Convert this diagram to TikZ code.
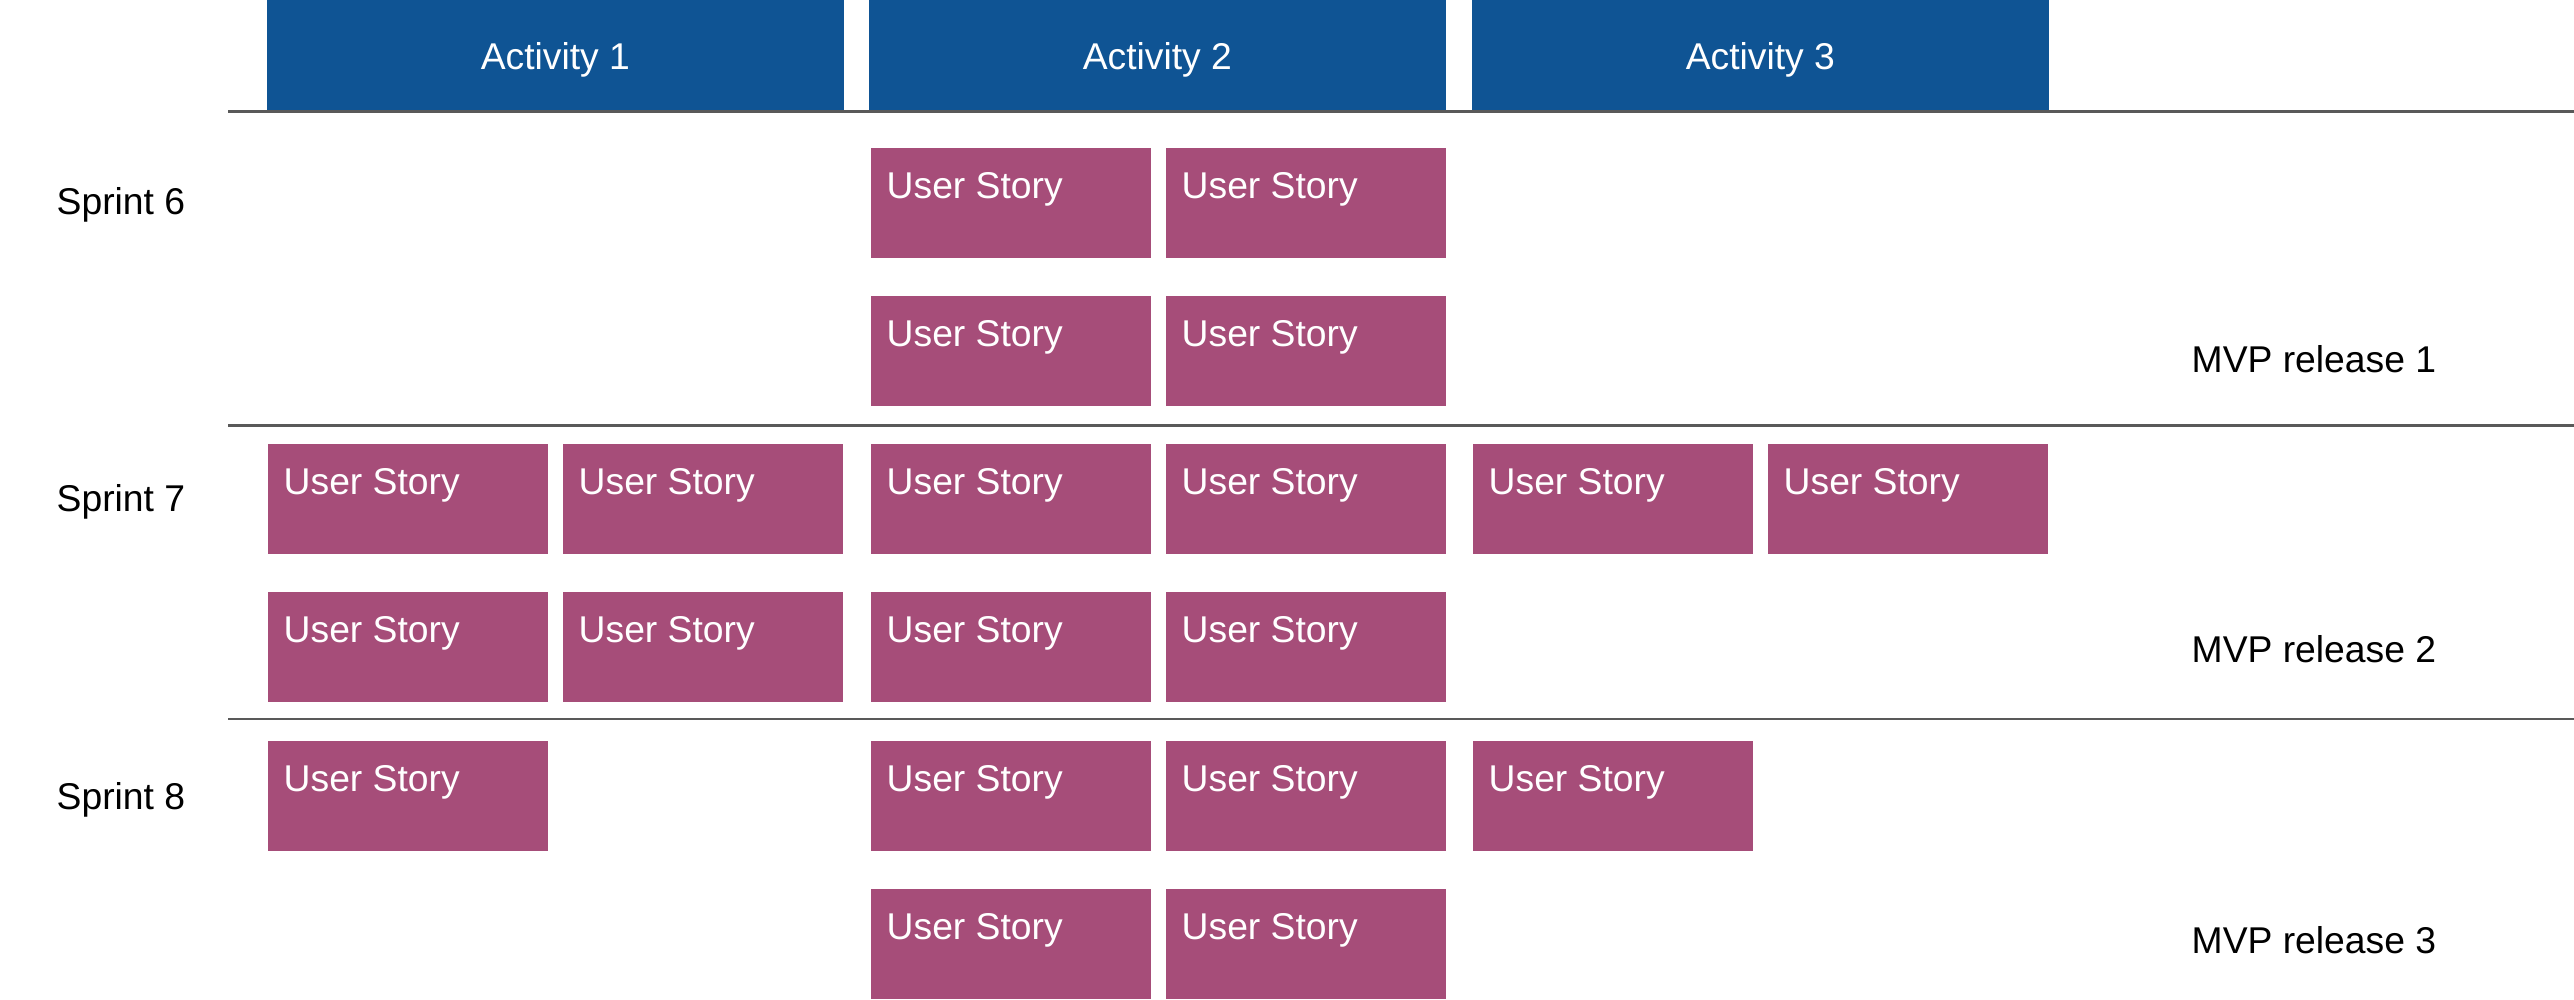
\documentclass[tikz,border=0pt]{standalone}
\usepackage{fontspec}
\setmainfont{Liberation Sans}
\usetikzlibrary{calc}
\definecolor{hdrblue}{HTML}{0F5494}
\definecolor{storypurple}{HTML}{A64D79}
\definecolor{rulegray}{HTML}{595959}
\begin{document}
\begin{tikzpicture}[x=0.01cm,y=-0.01cm,
  lblfont/.style={font=\fontsize{10.6}{12}\selectfont},
  header/.style={fill=hdrblue, draw=none, minimum width=5.77cm, minimum height=1.13cm, anchor=north west, inner sep=0},
  headertext/.style={lblfont, text=white, anchor=base, inner sep=0},
  story/.style={fill=storypurple, draw=none, minimum width=2.80cm, minimum height=1.10cm, anchor=north west, inner sep=0},
  storytext/.style={lblfont, text=white, anchor=base west, inner sep=0},
  sidelbl/.style={lblfont, text=black, anchor=base west, inner sep=0},
  rule/.style={draw=rulegray, line width=0.75pt}]
\useasboundingbox (0,0) rectangle (2574,1000);

% headers (start slightly above the page edge so no seam shows)
\foreach \i/\x in {1/266, 2/868, 3/1471} {
  \node[header] (h\i) at (\x,-3) {};
  \node[headertext] (ht\i) at ($(h\i.north)+(0,73)$) {Activity \i};
}

% rules
\coordinate (r0a) at (228,111.5); \coordinate (r0b) at (2574,111.5);
\coordinate (r1a) at (228,425.5); \coordinate (r1b) at (2574,425.5);
\coordinate (r2a) at (228,719);   \coordinate (r2b) at (2574,719);
\draw[rule] (r0a) -- (r0b);
\draw[rule] (r1a) -- (r1b);
\draw[rule] (r2a) -- (r2b);

% stories: row/top/columns
\foreach \r/\y/\cols in {1/147.7/{3,4}, 2/295.5/{3,4}, 3/443.2/{1,2,3,4,5,6}, 4/591/{1,2,3,4}, 5/740.4/{1,3,4,5}, 6/888.1/{3,4}} {
  \foreach \c in \cols {
    \pgfmathsetmacro{\xx}{{0,267,562,870,1165,1472,1767}[\c]}
    \node[story] (s\r\c) at (\xx,\y) {};
    \node[storytext] (st\r\c) at ($(s\r\c.north west)+(16,51)$) {User Story};
  }
}

% sprint labels
\node[sidelbl] (sp6) at (56,214) {Sprint 6};
\node[sidelbl] (sp7) at (56,511.5) {Sprint 7};
\node[sidelbl] (sp8) at (56,809.5) {Sprint 8};

% MVP labels
\node[sidelbl] (mvp1) at (2191,372) {MVP release 1};
\node[sidelbl] (mvp2) at (2191,662) {MVP release 2};
\node[sidelbl] (mvp3) at (2191,953) {MVP release 3};
\end{tikzpicture}
\end{document}
